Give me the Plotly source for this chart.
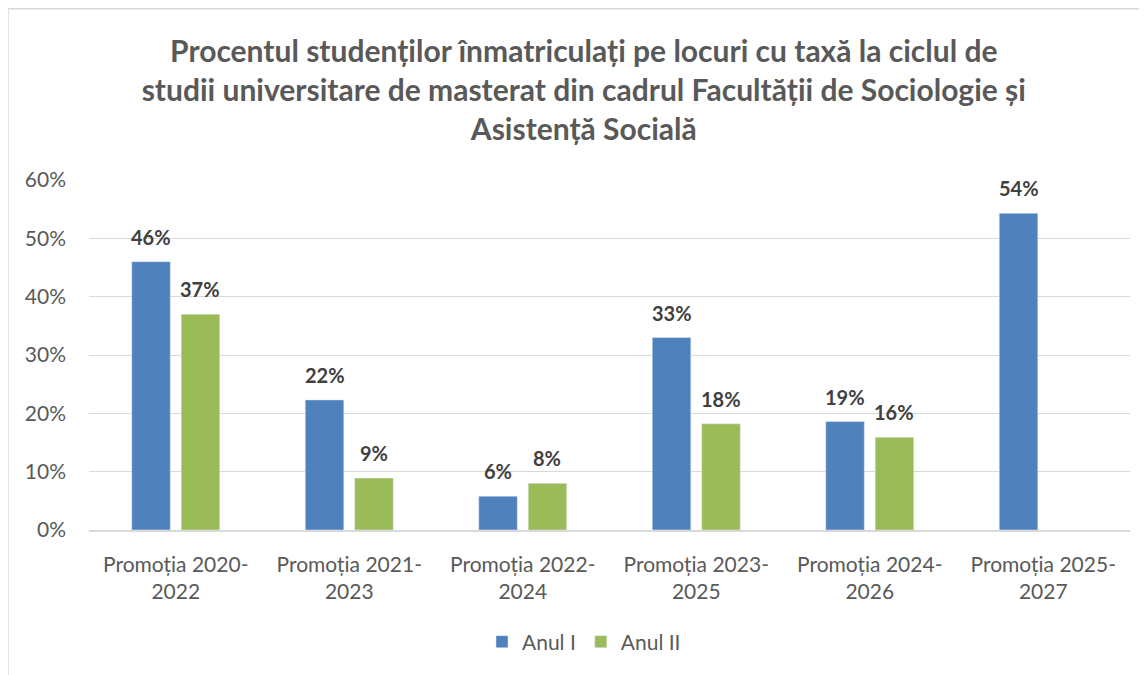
import plotly.graph_objects as go

CATEGORIES = [
    "Promoția 2020-<br>2022",
    "Promoția 2021-<br>2023",
    "Promoția 2022-<br>2024",
    "Promoția 2023-<br>2025",
    "Promoția 2024-<br>2026",
    "Promoția 2025-<br>2027",
]
ANUL_I = [0.46, 0.223, 0.058, 0.33, 0.186, 0.543]
ANUL_II = [0.37, 0.089, 0.080, 0.182, 0.159, None]
Y_TICKS = [0, 0.1, 0.2, 0.3, 0.4, 0.5, 0.6]

TITLE = (
    "Procentul studenților înmatriculați pe locuri cu taxă la ciclul de<br>"
    "studii universitare de masterat din cadrul Facultății de Sociologie și<br>"
    "Asistență Socială"
)

FONT = "Lato, 'Open Sans', sans-serif"
GREY = "#595959"

fig = go.Figure()
fig.add_bar(x=CATEGORIES, y=ANUL_I, name="Anul I", marker_color="#4F81BD")
fig.add_bar(x=CATEGORIES, y=ANUL_II, name="Anul II", marker_color="#9BBB59")

# data labels above each bar
for vals, shift in ((ANUL_I, -24.5), (ANUL_II, 24.5)):
    for cat, v in zip(CATEGORIES, vals):
        if v is None:
            continue
        fig.add_annotation(
            x=cat, y=v, text=f"<b>{v:.0%}</b>", showarrow=False,
            xshift=shift, yshift=25, yanchor="middle",
            font=dict(family=FONT, size=20, color="#404040"),
        )

fig.update_layout(
    width=1147,
    height=675,
    margin=dict(l=81, r=25, t=172, b=153),
    paper_bgcolor="white",
    plot_bgcolor="white",
    font=dict(family=FONT, size=21, color=GREY),
    title=dict(
        text=f"<b>{TITLE}</b>",
        x=0.502, xanchor="center", y=0.92, yanchor="top",
        font=dict(family=FONT, size=30, color=GREY),
    ),
    barmode="group",
    bargap=0.43,
    bargroupgap=0.22,
    showlegend=True,
    legend=dict(
        orientation="h", x=0.4755, xanchor="center", y=-0.32, yanchor="middle",
        font=dict(family=FONT, size=21, color=GREY),
        itemwidth=30,
    ),
    shapes=[dict(
        type="rect", xref="paper", yref="paper",
        x0=-0.0778, x1=1.05, y0=-0.6, y1=1.489,
        line=dict(color="#D9D9D9", width=1.5), fillcolor="rgba(0,0,0,0)",
        layer="below",
    )],
)
fig.update_yaxes(
    range=[0, 0.6], tickvals=Y_TICKS, tickformat=".0%",
    showgrid=True, gridcolor="#D9D9D9", gridwidth=1.3,
    zeroline=False, showline=False, ticklabelstandoff=22,
    tickfont=dict(size=21, color=GREY),
)
fig.update_xaxes(
    showline=True, linecolor="#D9D9D9", linewidth=1.5,
    ticks="", ticklabelstandoff=15,
    tickfont=dict(size=21, color=GREY),
)

fig.write_html("out.html")
